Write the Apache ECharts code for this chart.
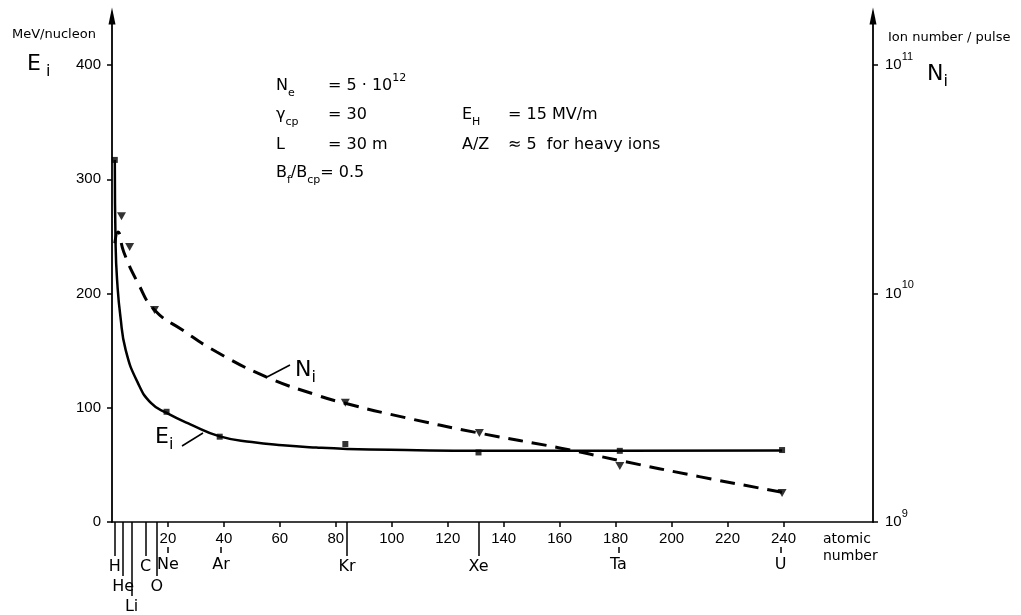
<!DOCTYPE html>
<html>
<head>
<meta charset="utf-8">
<script src="https://cdn.jsdelivr.net/npm/echarts@6/dist/echarts.min.js"></script>
<style>
html, body { margin: 0; padding: 0; background: #fff; }
#chart { width: 1021px; height: 615px; }
</style>
</head>
<body>
<div id="chart"></div>
<script>
// axis ticks
const xTicks = [20, 40, 60, 80, 100, 120, 140, 160, 180, 200, 220, 240];
const eTicks = [0, 100, 200, 300, 400];
const nTicks = [1e9, 1e10, 1e11];

// ions marked under the axis (mass number as drawn)
const elemNames = ['H', 'He', 'Li', 'C', 'O', 'Ne', 'Ar', 'Kr', 'Xe', 'Ta', 'U'];
const elemMass = [1, 4, 7, 12, 16, 20, 39, 84, 131, 181, 239];

// E_i curve, MeV/nucleon
const eCurveA = [1, 1.3, 1.9, 3.0, 4.9, 9.2, 14, 19.5, 28, 38.5, 50, 61, 73, 84, 105, 131, 181.5, 239.5];
const eCurveE = [317, 241, 209, 180, 150.5, 122, 104, 95.5, 85.5, 75, 70, 67.2, 65.2, 64, 63, 62.3, 62.3, 62.6];
const eMarkA = [1, 19.5, 38.5, 83.4, 131, 181.5, 239.5];
const eMarkE = [317, 96.5, 74.7, 68.3, 60.9, 62.3, 63];

// N_i curve, ions per pulse
const nCurveA = [1, 2.1, 4.2, 9.3, 15.2, 25.2, 37.3, 55.1, 73, 83.7, 102.8, 131.3, 160, 181.3, 209.9, 239.5];
const nCurveN = [1.66e10, 1.86e10, 1.52e10, 1.11e10, 8.47e9, 6.92e9, 5.56e9, 4.32e9, 3.6e9, 3.3e9, 2.9e9, 2.45e9, 2.11e9, 1.86e9, 1.58e9, 1.35e9];
const nMarkA = [3.4, 6.3, 15.2, 83.4, 131.3, 181.5, 239.5];
const nMarkN = [2.18e10, 1.6e10, 8.47e9, 3.33e9, 2.45e9, 1.76e9, 1.34e9];

const xMax = 272;
const yMax = 443;
const nMax = Math.pow(10, 9 + yMax / 200);

var chartDom = document.getElementById('chart');
var myChart = echarts.init(chartDom);

const numFont = 'Liberation Sans';
const txtFont = 'DejaVu Sans';

const zip = (a, b) => a.map((v, i) => [v, b[i]]);
const massToName = v => elemNames[elemMass.indexOf(v)];
const massesOf = names => names.map(n => elemMass[elemNames.indexOf(n)]);

// rows of element labels hanging under the axis
const dropRows = [
  { names: ['H', 'C', 'Kr', 'Xe'], offset: 0, tick: 34, margin: 37 },
  { names: ['He', 'O'], offset: 0, tick: 54, margin: 57 },
  { names: ['Li'], offset: 0, tick: 74, margin: 77 },
  { names: ['Ne', 'Ar', 'Ta', 'U'], offset: 25, tick: 6, margin: 10 }
];

const elemAxes = dropRows.map(r => ({
  type: 'value', min: 0, max: xMax, position: 'bottom', offset: r.offset,
  axisLine: { show: false, onZero: false },
  splitLine: { show: false },
  axisTick: { show: true, customValues: massesOf(r.names), length: r.tick, lineStyle: { color: '#000', width: 1.5 } },
  axisLabel: {
    customValues: massesOf(r.names), margin: r.margin, formatter: massToName,
    color: '#000', fontFamily: txtFont, fontSize: 16
  }
}));

// sub/superscripts are shifted through the line height of each token
const rich = {
  n: { fontFamily: txtFont, fontSize: 16, lineHeight: 26, fill: '#000' },
  sub: { fontFamily: txtFont, fontSize: 11, lineHeight: 18, verticalAlign: 'bottom', fill: '#000' },
  sup: { fontFamily: txtFont, fontSize: 11, lineHeight: 18, verticalAlign: 'top', fill: '#000' },
  big: { fontFamily: txtFont, fontSize: 22, lineHeight: 32, fill: '#000' },
  bsub: { fontFamily: txtFont, fontSize: 16, lineHeight: 20, verticalAlign: 'bottom', fill: '#000' }
};

function label(x, y, text, size) {
  return {
    type: 'text', x: x, y: y, silent: true,
    style: {
      text: text, rich: rich, fill: '#000',
      fontFamily: txtFont, fontSize: size || 16,
      align: 'left', verticalAlign: 'middle', textAlign: 'left', textVerticalAlign: 'middle'
    }
  };
}
function lead(x1, y1, x2, y2) {
  return { type: 'line', silent: true, shape: { x1: x1, y1: y1, x2: x2, y2: y2 }, style: { stroke: '#000', lineWidth: 1.5 } };
}

var option = {
  backgroundColor: '#fff',
  animation: false,
  grid: { left: 112, right: 148, top: 16, bottom: 93, outerBoundsMode: 'none', containLabel: false },
  xAxis: [
    {
      type: 'value', min: 0, max: xMax, position: 'bottom',
      axisLine: { show: true, onZero: false, lineStyle: { color: '#000', width: 1.5 } },
      splitLine: { show: false },
      axisTick: { show: true, customValues: xTicks, length: 5, lineStyle: { color: '#000', width: 1.5 } },
      axisLabel: { customValues: xTicks, margin: 9, color: '#000', fontFamily: numFont, fontSize: 15 }
    }
  ].concat(elemAxes),
  yAxis: [
    {
      type: 'value', min: 0, max: yMax, position: 'left',
      axisLine: { show: true, onZero: false, symbol: ['none', 'triangle'], symbolSize: [7, 17], lineStyle: { color: '#000', width: 1.8 } },
      splitLine: { show: false },
      axisTick: { show: true, customValues: eTicks, length: 5, lineStyle: { color: '#000', width: 1.5 } },
      axisLabel: { customValues: eTicks, margin: 11, color: '#000', fontFamily: numFont, fontSize: 15 }
    },
    {
      type: 'log', logBase: 10, min: 1e9, max: nMax, position: 'right',
      axisLine: { show: true, onZero: false, symbol: ['none', 'triangle'], symbolSize: [7, 17], lineStyle: { color: '#000', width: 1.8 } },
      splitLine: { show: false },
      axisTick: { show: true, customValues: nTicks, length: 5, lineStyle: { color: '#000', width: 1.5 } },
      axisLabel: {
        customValues: nTicks, margin: 12, color: '#000',
        formatter: v => '{b|10}{s|' + Math.round(Math.log10(v)) + '}',
        rich: {
          b: { fontFamily: numFont, fontSize: 15, lineHeight: 28, color: '#000' },
          s: { fontFamily: numFont, fontSize: 11, lineHeight: 12, verticalAlign: 'top', color: '#000' }
        }
      }
    }
  ],
  series: [
    {
      name: 'E_i', type: 'line', xAxisIndex: 0, yAxisIndex: 0,
      data: zip(eCurveA, eCurveE), showSymbol: false, smooth: 0.5,
      lineStyle: { color: '#000', width: 2.5 }, z: 3
    },
    {
      name: 'E_i points', type: 'scatter', xAxisIndex: 0, yAxisIndex: 0,
      data: zip(eMarkA, eMarkE), symbol: 'rect', symbolSize: 6,
      itemStyle: { color: '#000' }, z: 4
    },
    {
      name: 'N_i', type: 'line', xAxisIndex: 0, yAxisIndex: 1,
      data: zip(nCurveA, nCurveN), showSymbol: false, smooth: 0.5,
      lineStyle: { color: '#000', width: 3, type: [15, 9] }, z: 3
    },
    {
      name: 'N_i points', type: 'scatter', xAxisIndex: 0, yAxisIndex: 1,
      data: zip(nMarkA, nMarkN), symbol: 'triangle', symbolRotate: 180, symbolSize: [9, 8],
      itemStyle: { color: '#000' }, z: 4
    }
  ],
  graphic: [
    label(12, 35, 'MeV/nucleon', 13),
    label(27, 64, '{big|E}{bsub| i}', 22),
    label(888, 38, 'Ion number / pulse', 13),
    label(927, 74, '{big|N}{bsub|i}', 22),

    label(276, 86, '{n|N}{sub|e}'),
    label(328, 86, '{n|= 5 · 10}{sup|12}'),
    label(276, 115, '{n|γ}{sub|cp}'),
    label(328, 115, '{n|= 30}'),
    label(276, 145, '{n|L}'),
    label(328, 145, '{n|= 30 m}'),
    label(276, 173, '{n|B}{sub|f}{n|/B}{sub|cp}{n|= 0.5}'),
    label(462, 115, '{n|E}{sub|H}'),
    label(508, 115, '{n|= 15 MV/m}'),
    label(462, 145, '{n|A/Z}'),
    label(508, 145, '{n|≈ 5  for heavy ions}'),

    label(295, 370, '{big|N}{bsub|i}', 22),
    lead(267, 377, 290, 365),
    label(155, 437, '{big|E}{bsub|i}', 22),
    lead(182, 446, 203, 433),

    label(823, 539, 'atomic', 14),
    label(823, 556, 'number', 14)
  ]
};

option && myChart.setOption(option);
</script>
</body>
</html>
